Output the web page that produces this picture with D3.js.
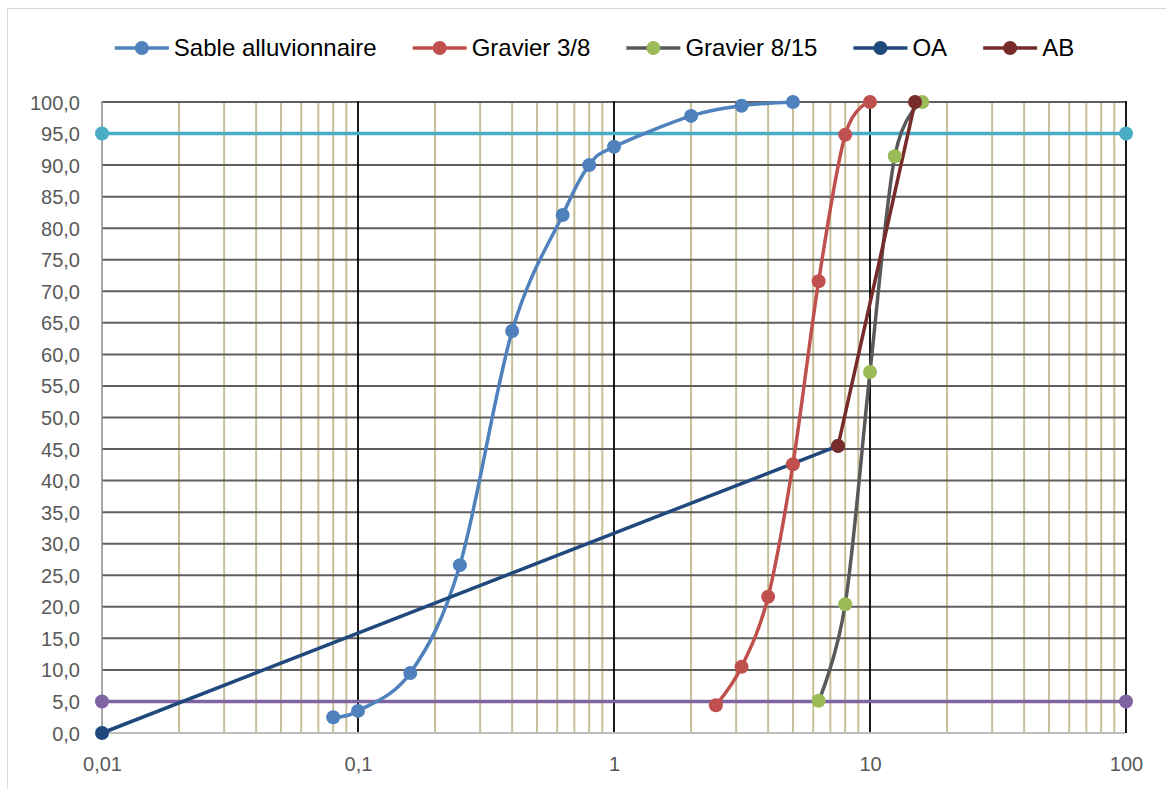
<!DOCTYPE html>
<html>
<head>
<meta charset="utf-8">
<script src="https://cdn.jsdelivr.net/npm/d3@7"></script>
<style>
  html, body { margin: 0; padding: 0; background: #fff; }
  svg { display: block; font-family: "Liberation Sans", Arial, sans-serif; }
</style>
</head>
<body>
<svg id="chart" width="1166" height="789"></svg>
<script>
// Grading curves: sieve opening (mm, log scale) vs. cumulative passing (%)
const sableX   = [0.08, 0.1, 0.16, 0.25, 0.4, 0.63, 0.8, 1, 2, 3.15, 5];
const sableY   = [2.5, 3.5, 9.5, 26.6, 63.7, 82.1, 90.0, 92.9, 97.8, 99.4, 100];
const g38X     = [2.5, 3.15, 4, 5, 6.3, 8, 10];
const g38Y     = [4.4, 10.5, 21.6, 42.6, 71.6, 94.8, 100];
const g815X    = [6.3, 8, 10, 12.5, 16];
const g815Y    = [5.1, 20.4, 57.2, 91.4, 100];
const oaX      = [0.01, 7.5];
const oaY      = [0, 45.5];
const abX      = [7.5, 15];
const abY      = [45.5, 100];
const limit95X = [0.01, 100];
const limit95Y = [95, 95];
const limit5X  = [0.01, 100];
const limit5Y  = [5, 5];

const xTickValues = [0.01, 0.1, 1, 10, 100];
const xTickLabels = ["0,01", "0,1", "1", "10", "100"];
const yTickValues = d3.range(0, 101, 5);

const series = [
  { name: "Sable alluvionnaire", x: sableX, y: sableY, line: "#4f81bd", marker: "#4f81bd", smooth: true, legend: true },
  { name: "Gravier 3/8",         x: g38X,   y: g38Y,   line: "#c0504d", marker: "#c0504d", smooth: true, legend: true },
  { name: "Gravier 8/15",        x: g815X,  y: g815Y,  line: "#595959", marker: "#9bbb59", smooth: true, legend: true },
  { name: "OA",                  x: oaX,    y: oaY,    line: "#1f497d", marker: "#1f497d", smooth: false, legend: true },
  { name: "AB",                  x: abX,    y: abY,    line: "#772c2a", marker: "#772c2a", smooth: false, legend: true },
  { name: "95%",                 x: limit95X, y: limit95Y, line: "#4bacc6", marker: "#4bacc6", smooth: false, legend: false },
  { name: "5%",                  x: limit5X,  y: limit5Y,  line: "#8064a2", marker: "#8064a2", smooth: false, legend: false }
];

const svg = d3.select("#chart");
const W = 1166, H = 789;
const plot = { left: 102, right: 1126, top: 102, bottom: 733 };

// outer chart frame
svg.append("rect")
  .attr("x", 7.5).attr("y", 8.5)
  .attr("width", W + 10).attr("height", H + 10)
  .attr("fill", "#fff").attr("stroke", "#d9d9d9").attr("stroke-width", 1);

const x = d3.scaleLog().domain([0.01, 100]).range([plot.left, plot.right]);
const y = d3.scaleLinear().domain([0, 100]).range([plot.bottom, plot.top]);

const grid = svg.append("g");

// minor vertical gridlines (2..9 in each decade)
const minorVals = [];
for (let e = -2; e < 2; e++) {
  for (let k = 2; k <= 9; k++) minorVals.push(k * Math.pow(10, e));
}
grid.selectAll("line.minor").data(minorVals).join("line")
  .attr("class", "minor")
  .attr("x1", d => x(d)).attr("x2", d => x(d))
  .attr("y1", y(100)).attr("y2", y(0))
  .attr("stroke", "#c8bf98").attr("stroke-width", 2);

// horizontal gridlines
grid.selectAll("line.hgrid").data(yTickValues.filter(v => v > 0)).join("line")
  .attr("class", "hgrid")
  .attr("x1", x(0.01)).attr("x2", x(100))
  .attr("y1", d => y(d)).attr("y2", d => y(d))
  .attr("stroke", "#5e5e5e").attr("stroke-width", 2);

// major vertical gridlines at decades
grid.selectAll("line.major").data(xTickValues.slice(1)).join("line")
  .attr("class", "major")
  .attr("x1", d => x(d)).attr("x2", d => x(d))
  .attr("y1", y(100) - 1).attr("y2", y(0))
  .attr("stroke", "#000").attr("stroke-width", 1.8);

// left edge & bottom axis line
grid.append("line")
  .attr("x1", x(0.01)).attr("x2", x(0.01))
  .attr("y1", y(100) - 1).attr("y2", y(0))
  .attr("stroke", "#8a8a8a").attr("stroke-width", 1.5);
grid.append("line")
  .attr("x1", x(0.01)).attr("x2", x(100) - 1)
  .attr("y1", y(0)).attr("y2", y(0))
  .attr("stroke", "#bfbfbf").attr("stroke-width", 2);

// axes (labels only)
const yAxis = d3.axisLeft(y).tickValues(yTickValues)
  .tickFormat(d => d3.format(".1f")(d).replace(".", ","))
  .tickSize(0).tickPadding(0);
const yg = svg.append("g").attr("transform", `translate(80,0)`).call(yAxis);
yg.select(".domain").remove();
yg.selectAll("text").attr("fill", "#595959").style("font-size", "20px")
  .style("font-family", "'Liberation Sans', Arial, sans-serif").attr("dy", "0.35em");

const xAxis = d3.axisBottom(x).tickValues(xTickValues)
  .tickFormat((d, i) => xTickLabels[i])
  .tickSize(0).tickPadding(0);
const xg = svg.append("g").attr("transform", `translate(0,${plot.bottom + 24})`).call(xAxis);
xg.select(".domain").remove();
xg.selectAll("text").attr("fill", "#595959").style("font-size", "20px")
  .style("font-family", "'Liberation Sans', Arial, sans-serif").attr("dy", "0.71em");

// series
const toPts = s => s.x.map((v, i) => [v, s.y[i]]);
const lineSmooth = d3.line().x(d => x(d[0])).y(d => y(d[1])).curve(d3.curveCardinal.tension(0));
const lineStraight = d3.line().x(d => x(d[0])).y(d => y(d[1]));

const drawOrder = [5, 6, 0, 1, 2, 3, 4];
const lines = svg.append("g");
const marks = svg.append("g");
drawOrder.forEach(i => {
  const s = series[i];
  lines.append("path")
    .attr("d", (s.smooth ? lineSmooth : lineStraight)(toPts(s)))
    .attr("fill", "none").attr("stroke", s.line)
    .attr("stroke-width", 3.5).attr("stroke-linejoin", "round").attr("stroke-linecap", "round");
});
drawOrder.forEach(i => {
  const s = series[i];
  marks.selectAll(null).data(toPts(s)).join("circle")
    .attr("cx", d => x(d[0])).attr("cy", d => y(d[1]))
    .attr("r", 7).attr("fill", s.marker);
});

// legend
const legendItems = series.filter(s => s.legend);
const legend = svg.append("g");
const legY = 48, lineLen = 54, textGap = 5, itemGap = 36;
const items = legendItems.map(s => {
  const g = legend.append("g");
  g.append("line").attr("x1", 0).attr("x2", lineLen).attr("y1", legY).attr("y2", legY)
    .attr("stroke", s.line).attr("stroke-width", 3.5);
  g.append("circle").attr("cx", lineLen / 2).attr("cy", legY).attr("r", 7).attr("fill", s.marker);
  const t = g.append("text").attr("x", lineLen + textGap).attr("y", legY).attr("dy", "0.35em")
    .style("font-size", "24px").attr("fill", "#000").text(s.name);
  return { g, w: lineLen + textGap + t.node().getComputedTextLength() };
});
const total = d3.sum(items, d => d.w) + itemGap * (items.length - 1);
let cx = (117 + 1072) / 2 - total / 2;
items.forEach(it => {
  it.g.attr("transform", `translate(${cx},0)`);
  cx += it.w + itemGap;
});
</script>
</body>
</html>
